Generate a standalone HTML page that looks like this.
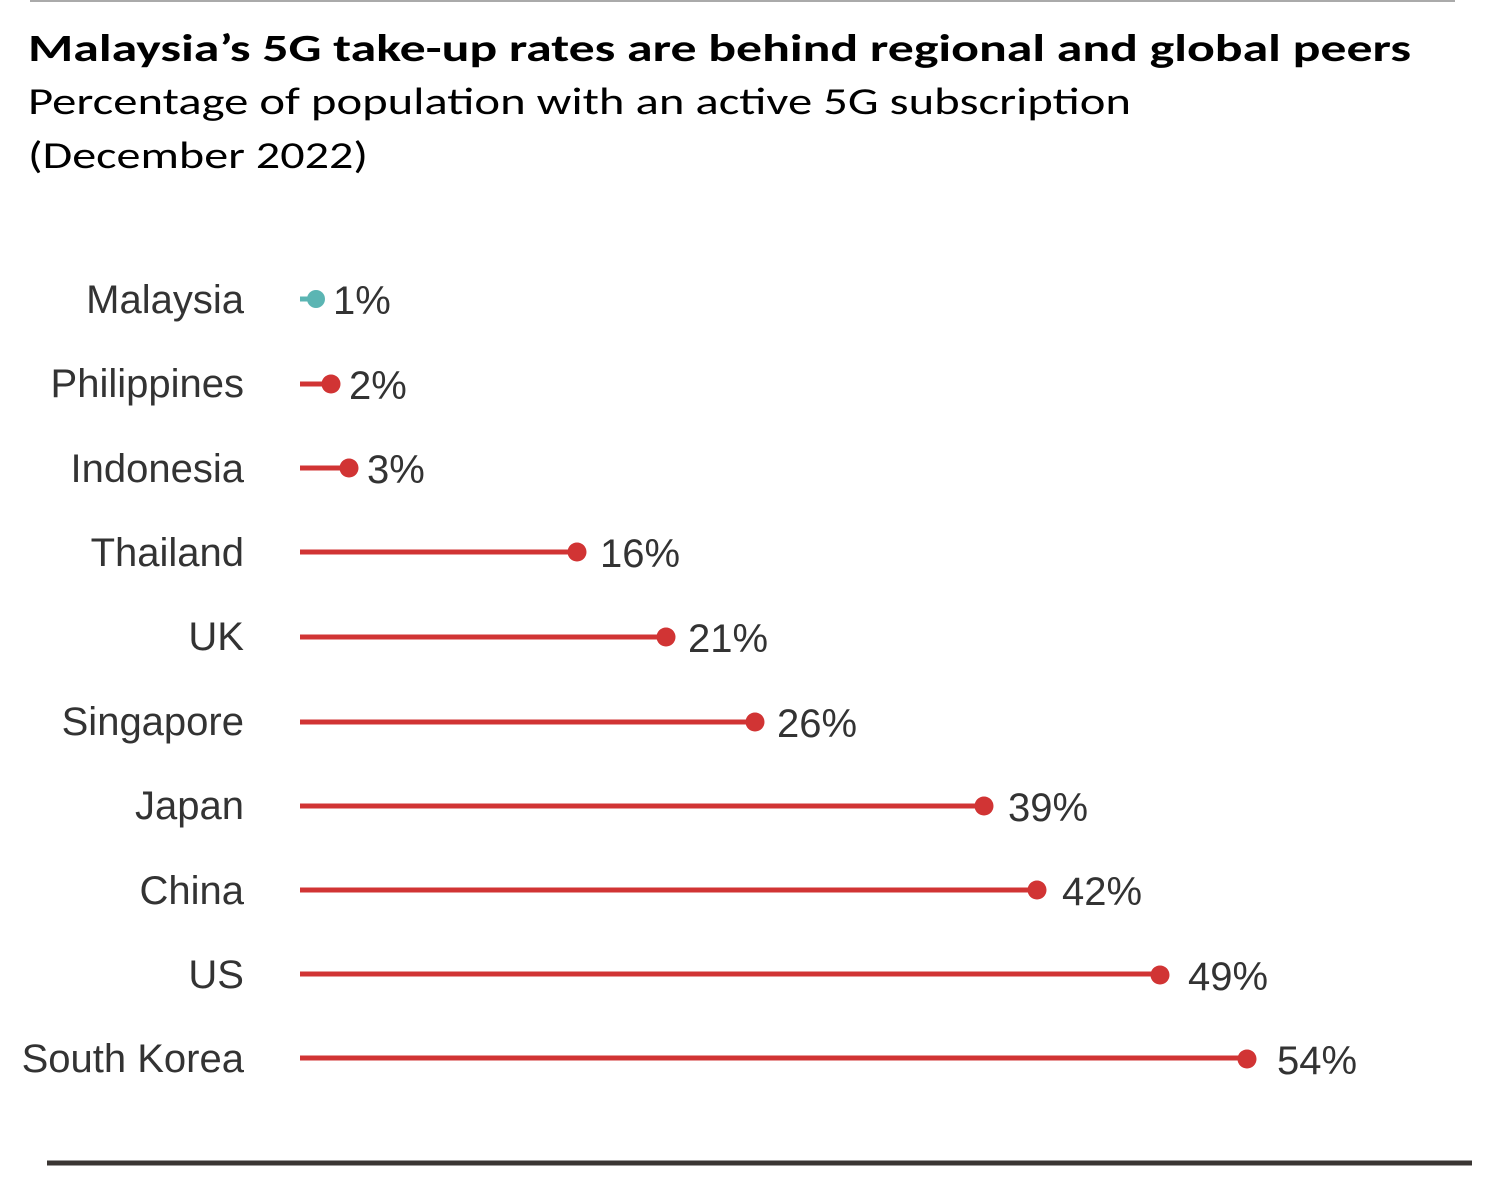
<!DOCTYPE html>
<html><head><meta charset="utf-8"><style>
html,body{margin:0;padding:0;background:#fff;}
svg{display:block;}
</style></head><body>
<svg width="1502" height="1182" viewBox="0 0 1502 1182" xmlns="http://www.w3.org/2000/svg">
<line x1="30" y1="1" x2="1455" y2="1" stroke="#aaa" stroke-width="2"/>
<g font-family="Carlito, Calibri, 'Liberation Sans', sans-serif" fill="#000">
<text x="28" y="61" font-size="38" font-weight="bold" textLength="1383" lengthAdjust="spacingAndGlyphs">Malaysia’s 5G take-up rates are behind regional and global peers</text>
<text x="28" y="114" font-size="38" textLength="1103" lengthAdjust="spacingAndGlyphs">Percentage of population with an active 5G subscription</text>
<text x="28" y="168" font-size="38" textLength="340" lengthAdjust="spacingAndGlyphs">(December 2022)</text>
</g>
<g font-family="'Liberation Sans', Arial, sans-serif" font-size="40" fill="#333">
<g text-anchor="end">
<text x="244" y="313">Malaysia</text>
<text x="244" y="397">Philippines</text>
<text x="244" y="482">Indonesia</text>
<text x="244" y="566">Thailand</text>
<text x="244" y="650">UK</text>
<text x="244" y="735">Singapore</text>
<text x="244" y="819">Japan</text>
<text x="244" y="904">China</text>
<text x="244" y="988">US</text>
<text x="244" y="1072">South Korea</text>
</g>
<g stroke-width="5">
<line x1="300" y1="299" x2="316" y2="299" stroke="#5bb5b3"/>
<line x1="300" y1="384" x2="331" y2="384" stroke="#d13434"/>
<line x1="300" y1="468" x2="349" y2="468" stroke="#d13434"/>
<line x1="300" y1="552" x2="577" y2="552" stroke="#d13434"/>
<line x1="300" y1="637" x2="666" y2="637" stroke="#d13434"/>
<line x1="300" y1="722" x2="755" y2="722" stroke="#d13434"/>
<line x1="300" y1="806" x2="984" y2="806" stroke="#d13434"/>
<line x1="300" y1="890" x2="1037" y2="890" stroke="#d13434"/>
<line x1="300" y1="974" x2="1160" y2="974" stroke="#d13434"/>
<line x1="300" y1="1058" x2="1247" y2="1058" stroke="#d13434"/>
</g>
<circle cx="316" cy="299" r="9" fill="#5bb5b3"/>
<g fill="#d13434">
<circle cx="331" cy="384" r="9.5"/>
<circle cx="349" cy="468" r="9.5"/>
<circle cx="577" cy="552" r="9.5"/>
<circle cx="666" cy="637" r="9.5"/>
<circle cx="755" cy="722" r="9.5"/>
<circle cx="984" cy="806" r="9.5"/>
<circle cx="1037" cy="890" r="9.5"/>
<circle cx="1160" cy="975" r="9.5"/>
<circle cx="1247" cy="1059" r="9.5"/>
</g>
<text x="333" y="314">1%</text>
<text x="349" y="399">2%</text>
<text x="367" y="483">3%</text>
<text x="600" y="567">16%</text>
<text x="688" y="652">21%</text>
<text x="777" y="737">26%</text>
<text x="1008" y="821">39%</text>
<text x="1062" y="905">42%</text>
<text x="1188" y="990">49%</text>
<text x="1277" y="1074">54%</text>
</g>
<line x1="47" y1="1163" x2="1472" y2="1163" stroke="#3a3633" stroke-width="5"/>
</svg>
</body></html>
